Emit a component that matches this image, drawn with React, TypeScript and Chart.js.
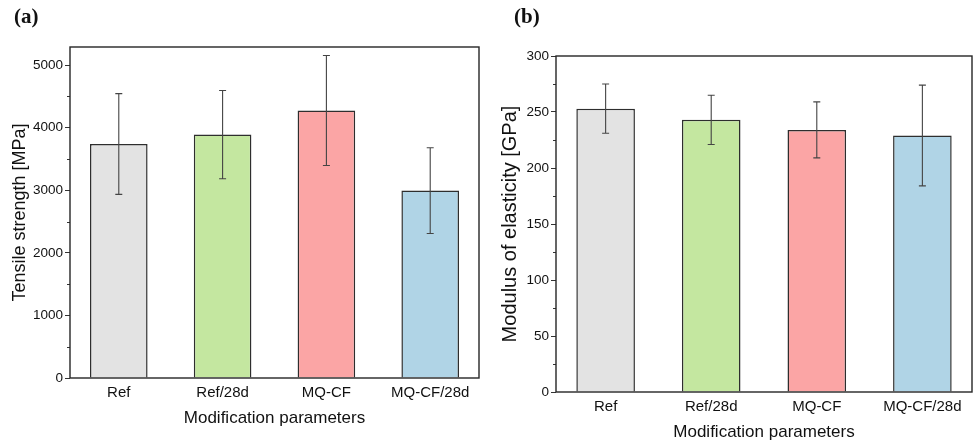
import React, { useEffect, useRef } from 'react';
import { Chart, registerables } from 'chart.js';

Chart.register(...registerables);

// ---- data ----
const categories = ['Ref', 'Ref/28d', 'MQ-CF', 'MQ-CF/28d'];
const categoryPositions = [0, 1, 2, 3];
const tensileMean = [3740, 3890, 4275, 2995];
const tensileErr = [805, 705, 880, 685];
const tensileTicks = [0, 1000, 2000, 3000, 4000, 5000];
const modulusMean = [253, 243, 234, 229];
const modulusErr = [22, 22, 25, 45];
const modulusTicks = [0, 50, 100, 150, 200, 250, 300];
const barColors = ['#e3e3e3', '#c4e7a0', '#fba5a5', '#b0d4e6'];

const FONT = "'Liberation Sans', Arial, sans-serif";
const TEXT = '#111111';

type PanelProps = {
  left: number;
  width: number;
  means: number[];
  errs: number[];
  yTicks: number[];
  yMax: number;
  yStep: number;
  yTitle: string;
  yTitleSize: number;
  yTitlePad: number;
  padTop: number;
  padRight: number;
  yAxisWidth: number;
  xAxisHeight: number;
  xTitlePadBottom: number;
};

function makePlugin(errs: number[], step: number) {
  return {
    id: 'frameAndErrors',
    afterDatasetsDraw(chart: any) {
      const { ctx, chartArea: a, scales } = chart;
      const y = scales.y;
      const meta = chart.getDatasetMeta(0);
      const data = chart.data.datasets[0].data as any[];
      ctx.save();
      // error bars
      ctx.strokeStyle = '#444444';
      ctx.lineWidth = 1.1;
      meta.data.forEach((el: any, i: number) => {
        const v = data[i].y;
        const x = el.x;
        const yt = y.getPixelForValue(v + errs[i]);
        const yb = y.getPixelForValue(v - errs[i]);
        ctx.beginPath();
        ctx.moveTo(x, yt);
        ctx.lineTo(x, yb);
        ctx.moveTo(x - 3.5, yt);
        ctx.lineTo(x + 3.5, yt);
        ctx.moveTo(x - 3.5, yb);
        ctx.lineTo(x + 3.5, yb);
        ctx.stroke();
      });
      // minor ticks
      ctx.strokeStyle = '#333';
      ctx.lineWidth = 1;
      for (let v = step / 2; v < y.max; v += step) {
        const py = Math.round(y.getPixelForValue(v)) + 0.5;
        ctx.beginPath();
        ctx.moveTo(a.left - 3, py);
        ctx.lineTo(a.left, py);
        ctx.stroke();
      }
      // frame
      ctx.strokeStyle = '#262626';
      ctx.lineWidth = 1.4;
      ctx.strokeRect(a.left, a.top, a.right - a.left, a.bottom - a.top);
      ctx.restore();
    },
  };
}

function Panel(p: PanelProps) {
  const ref = useRef<HTMLCanvasElement>(null);
  useEffect(() => {
    if (!ref.current) return;
    const chart = new Chart(ref.current, {
      type: 'bar',
      data: {
        datasets: [
          {
            data: categoryPositions.map((x, i) => ({ x, y: p.means[i] })),
            backgroundColor: barColors,
            borderColor: '#2e2e2e',
            borderWidth: 1.5,
            barPercentage: 0.555,
            categoryPercentage: 1,
          },
        ],
      },
      options: {
        animation: false,
        responsive: false,
        maintainAspectRatio: false,
        layout: { padding: { left: 0, right: p.padRight, top: p.padTop, bottom: 0 } },
        plugins: { legend: { display: false }, tooltip: { enabled: false } },
        scales: {
          x: {
            type: 'linear',
            offset: false,
            min: -0.47,
            max: 3.47,
            grid: { display: false, drawTicks: false },
            border: { display: false },
            afterBuildTicks: (s: any) => {
              s.ticks = categoryPositions.map((v) => ({ value: v }));
            },
            ticks: {
              autoSkip: false,
              maxRotation: 0,
              padding: 6,
              color: TEXT,
              font: { family: FONT, size: 15 },
              callback: (v: any) => categories[v] ?? '',
            },
            title: {
              display: true,
              text: 'Modification parameters',
              color: TEXT,
              font: { family: FONT, size: 17, lineHeight: 1 },
              padding: { top: 0, bottom: p.xTitlePadBottom },
            },
            afterFit: (s: any) => {
              s.height = p.xAxisHeight;
            },
          },
          y: {
            type: 'linear',
            min: 0,
            max: p.yMax,
            grid: { display: true, drawOnChartArea: false, drawTicks: true, tickLength: 5, tickColor: '#333', tickWidth: 1 },
            border: { display: false },
            afterBuildTicks: (s: any) => {
              s.ticks = p.yTicks.map((v) => ({ value: v }));
            },
            ticks: {
              autoSkip: false,
              padding: 2,
              color: TEXT,
              font: { family: FONT, size: 13.5 },
              callback: (v: any) => String(v),
            },
            title: {
              display: true,
              text: p.yTitle,
              color: TEXT,
              font: { family: FONT, size: p.yTitleSize, lineHeight: 1 },
              padding: { top: p.yTitlePad, bottom: 0 },
            },
            afterFit: (s: any) => {
              s.width = p.yAxisWidth;
            },
          },
        },
      } as any,
      plugins: [makePlugin(p.errs, p.yStep)],
    });
    return () => chart.destroy();
  }, []);
  return (
    <canvas
      ref={ref}
      width={p.width}
      height={442}
      style={{ position: 'absolute', left: p.left, top: 0, width: p.width, height: 442 }}
    />
  );
}

const labelStyle: React.CSSProperties = {
  position: 'absolute',
  top: 4,
  fontFamily: "'Liberation Serif', 'Times New Roman', serif",
  fontWeight: 'bold',
  fontSize: 21,
  color: '#111',
  lineHeight: '24px',
};

export default function App() {
  return (
    <div style={{ position: 'fixed', left: 0, top: 0, width: 973, height: 442, background: '#fff', overflow: 'hidden' }}>
      <Panel
        left={0}
        width={485}
        means={tensileMean}
        errs={tensileErr}
        yTicks={tensileTicks}
        yMax={5290}
        yStep={1000}
        yTitle="Tensile strength [MPa]"
        yTitleSize={18}
        yTitlePad={11}
        padTop={47}
        padRight={6}
        yAxisWidth={70}
        xAxisHeight={64}
        xTitlePadBottom={15.5}
      />
      <Panel
        left={485}
        width={488}
        means={modulusMean}
        errs={modulusErr}
        yTicks={modulusTicks}
        yMax={300}
        yStep={50}
        yTitle="Modulus of elasticity [GPa]"
        yTitleSize={20}
        yTitlePad={15}
        padTop={56}
        padRight={1}
        yAxisWidth={71}
        xAxisHeight={50}
        xTitlePadBottom={1.5}
      />
      <div style={{ ...labelStyle, left: 14 }}>(a)</div>
      <div style={{ ...labelStyle, left: 514 }}>(b)</div>
    </div>
  );
}
